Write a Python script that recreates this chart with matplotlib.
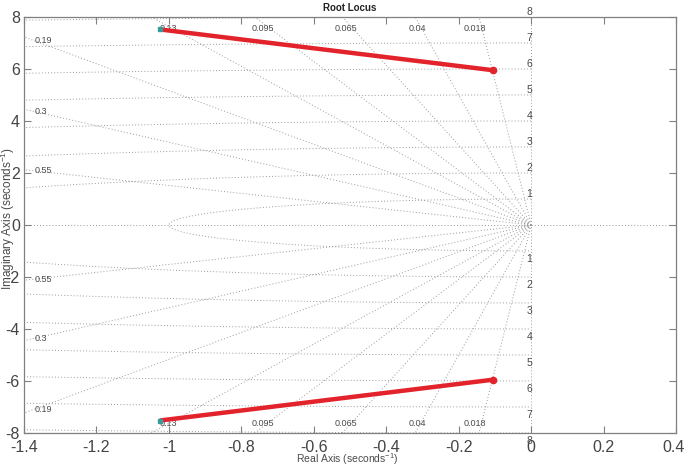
import numpy as np
import matplotlib
matplotlib.use("Agg")
import matplotlib.pyplot as plt
from matplotlib import font_manager
from matplotlib.transforms import ScaledTranslation

# ---------------- data ----------------
zeta_values = [0.018, 0.04, 0.065, 0.095, 0.13, 0.19, 0.3, 0.55]
zeta_labels = ["0.018", "0.04", "0.065", "0.095", "0.13", "0.19", "0.3", "0.55"]
wn_values = [1, 2, 3, 4, 5, 6, 7, 8]
wn_labels = ["1", "2", "3", "4", "5", "6", "7", "8"]

locus_upper_re = [-1.025, -0.105]
locus_upper_im = [7.52, 5.95]
locus_lower_re = [-1.025, -0.105]
locus_lower_im = [-7.52, -5.95]

x_ticks = [-1.4, -1.2, -1.0, -0.8, -0.6, -0.4, -0.2, 0.0, 0.2, 0.4]
x_tick_labels = ["-1.4", "-1.2", "-1", "-0.8", "-0.6", "-0.4", "-0.2", "0", "0.2", "0.4"]
y_ticks = [-8, -6, -4, -2, 0, 2, 4, 6, 8]
y_tick_labels = ["-8", "-6", "-4", "-2", "0", "2", "4", "6", "8"]

xlim = (-1.4, 0.4)
ylim = (-8, 8)

# ---------------- fonts ----------------
narrow = None
for f in font_manager.fontManager.ttflist:
    if "narrow" in f.fname.lower() and "liberation" in f.fname.lower() and f.weight in (400, "normal") and f.style == "normal":
        narrow = f.name
        break
plt.rcParams["font.family"] = ["Liberation Sans", "DejaVu Sans"]
plt.rcParams["mathtext.fontset"] = "custom"
plt.rcParams["mathtext.rm"] = "Liberation Sans"
plt.rcParams["mathtext.it"] = "Liberation Sans"

grid_color = "#9a9a9a"
text_gray = "#4a4a4a"
tick_gray = "#444444"

fig = plt.figure(figsize=(6.85, 4.68), dpi=100)
ax = fig.add_axes([0.035, 0.0748, 0.952, 0.889])
ax.set_xlim(*xlim)
ax.set_ylim(*ylim)

dots = (0, (1, 2.2))
gkw = dict(color=grid_color, lw=0.7, ls=dots, zorder=1)

# wn circles (left half plane)
th = np.linspace(np.pi / 2, 3 * np.pi / 2, 600)
for wn in wn_values:
    ax.plot(wn * np.cos(th), wn * np.sin(th), **gkw)

# damping ratio lines
R = 30.0
for z in zeta_values:
    s = np.sqrt(1 - z * z)
    ax.plot([0, -R * z], [0, R * s], **gkw)
    ax.plot([0, -R * z], [0, -R * s], **gkw)

# real and imaginary axes lines
ax.plot([xlim[0], xlim[1]], [0, 0], **gkw)
ax.plot([0, 0], [ylim[0], ylim[1]], **gkw)

# damping labels
lab_kw = dict(fontsize=6.5, color=text_gray, family=["Liberation Sans", "DejaVu Sans"], zorder=3)
for z, lab in zip(zeta_values, zeta_labels):
    slope = np.sqrt(1 - z * z) / z
    y_left = -xlim[0] * slope
    if y_left < 7.6:
        yl = -(xlim[0] + 0.03) * slope
        ax.text(xlim[0] + 0.03, yl, lab, ha="left", va="center", **lab_kw)
        ax.text(xlim[0] + 0.03, -yl, lab, ha="left", va="center", **lab_kw)
    else:
        yt = 7.55
        xt = -yt / slope + 0.012
        ax.text(xt, yt, lab, ha="right", va="center", **lab_kw)
        ax.text(xt, -7.62, lab, ha="right", va="center", **lab_kw)

# wn labels
wn_kw = dict(lab_kw)
wn_kw["fontsize"] = 7.5
for wn, lab in zip(wn_values, wn_labels):
    ax.text(-0.005, wn + 0.2, lab, ha="center", va="center", clip_on=False, **wn_kw)
    ax.text(-0.005, -wn - 0.3, lab, ha="center", va="center", clip_on=False, **wn_kw)

# locus
red = "#e3232b"
for xs, ys in [(locus_upper_re, locus_upper_im), (locus_lower_re, locus_lower_im)]:
    ax.plot(xs, ys, color=red, lw=3.2, solid_capstyle="butt", zorder=4)
    ax.plot(xs[-1], ys[-1], "o", color=red, ms=4.5, zorder=5)
    ax.plot(xs[0], ys[0], "s", color="#3a9a9a", ms=2.2, zorder=5)

# axes styling
spine_color = "#808080"
for sp in ax.spines.values():
    sp.set_color(spine_color)
    sp.set_linewidth(0.9)
ax.set_xticks(x_ticks)
ax.set_yticks(y_ticks)
ax.set_xticklabels(x_tick_labels)
ax.set_yticklabels(y_tick_labels)
tick_size = 12.5 if narrow else 11.5
ax.tick_params(direction="in", length=5, width=0.8, color=spine_color,
               top=True, right=True, labelcolor=tick_gray, labelsize=tick_size, pad=5)
ax.tick_params(axis="y", pad=3)
tick_fam = [narrow, "Liberation Sans", "DejaVu Sans"] if narrow else ["Liberation Sans", "DejaVu Sans"]
for lb in ax.get_xticklabels() + ax.get_yticklabels():
    lb.set_family(tick_fam)
# keep the last x tick label inside the canvas
last = ax.get_xticklabels()[-1]
last.set_transform(last.get_transform() + ScaledTranslation(-3 / 100, 0, fig.dpi_scale_trans))

# title and labels
fig.text(350 / 685, 1 - 8 / 468, "Root Locus", ha="center", va="center",
         fontsize=7, fontweight="bold", color="#222222")
fig.text(347 / 685, 1 - 459 / 468, r"Real Axis (seconds$^{-1}$)", ha="center", va="center",
         fontsize=7.5, color=text_gray)
fig.text(8 / 685, 1 - 218 / 468, r"Imaginary Axis (seconds$^{-1}$)", ha="center", va="center",
         rotation=90, fontsize=8.5, color=text_gray)

fig.savefig("out.png", dpi=100)
